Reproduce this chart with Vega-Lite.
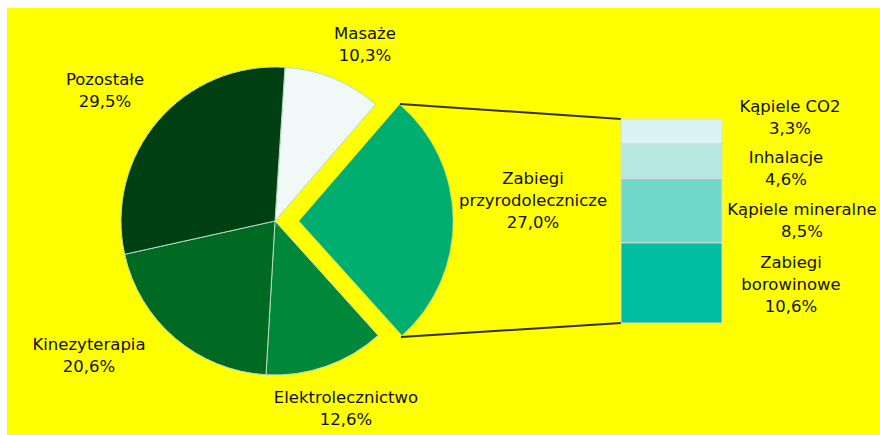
{
  "$schema": "https://vega.github.io/schema/vega-lite/v6.json",
  "width": 873,
  "height": 427,
  "autosize": {"type": "none"},
  "padding": {"left": 7, "top": 8, "right": 0, "bottom": 0},
  "background": "#ffffff",
  "config": {
    "view": {"stroke": null, "fill": "#ffff00"},
    "text": {"font": "DejaVu Sans", "fontSize": 16.5, "fill": "#111111", "align": "center", "baseline": "middle", "lineHeight": 22, "lineBreak": "\n"}
  },
  "datasets": {
    "pie": [
      {"cat": "Masaże", "label": "Masaże", "pct": 10.3, "ord": 1},
      {"cat": "Zabiegi przyrodolecznicze", "label": "Zabiegi\nprzyrodolecznicze", "pct": 27.0, "ord": 2},
      {"cat": "Elektrolecznictwo", "label": "Elektrolecznictwo", "pct": 12.6, "ord": 3},
      {"cat": "Kinezyterapia", "label": "Kinezyterapia", "pct": 20.6, "ord": 4},
      {"cat": "Pozostałe", "label": "Pozostałe", "pct": 29.5, "ord": 5}
    ],
    "bar": [
      {"cat": "Kąpiele CO2", "label": "Kąpiele CO2", "pct": 3.3, "ord": 1},
      {"cat": "Inhalacje", "label": "Inhalacje", "pct": 4.6, "ord": 2},
      {"cat": "Kąpiele mineralne", "label": "Kąpiele mineralne", "pct": 8.5, "ord": 3},
      {"cat": "Zabiegi borowinowe", "label": "Zabiegi\nborowinowe", "pct": 10.6, "ord": 4}
    ]
  },
  "resolve": {"scale": {"y": "independent"}},
  "layer": [
    {
      "layer": [
        {
          "data": {"name": "pie"},
          "transform": [
            {"stack": "pct", "groupby": [], "sort": [{"field": "ord", "order": "ascending"}], "as": ["t0", "t1"]},
            {"filter": "datum.cat !== 'Zabiegi przyrodolecznicze'"}
          ],
          "mark": {"type": "arc", "outerRadius": 154, "stroke": "#b5dcc0", "strokeWidth": 1},
          "encoding": {
            "theta": {"field": "t0", "type": "quantitative", "stack": null, "scale": {"domain": [0, 100], "range": [0.0646, 6.3478]}},
            "theta2": {"field": "t1"},
            "color": {"field": "cat", "type": "nominal", "legend": null, "scale": {
              "domain": ["Masaże", "Zabiegi przyrodolecznicze", "Elektrolecznictwo", "Kinezyterapia", "Pozostałe", "Kąpiele CO2", "Inhalacje", "Kąpiele mineralne", "Zabiegi borowinowe"],
              "range": ["#f0f8f8", "#00ae6f", "#00873a", "#006a22", "#003f12", "#daf3f5", "#b7e9e3", "#70d8c8", "#00bfa0"]}},
            "x": {"datum": 275, "type": "quantitative", "axis": null, "scale": {"domain": [7, 880], "zero": false, "nice": false}},
            "y": {"datum": 221, "type": "quantitative", "axis": null, "scale": {"domain": [8, 435], "reverse": true, "zero": false, "nice": false}}
          }
        },
        {
          "data": {"name": "pie"},
          "transform": [
            {"stack": "pct", "groupby": [], "sort": [{"field": "ord", "order": "ascending"}], "as": ["t0", "t1"]},
            {"filter": "datum.cat === 'Zabiegi przyrodolecznicze'"}
          ],
          "mark": {"type": "arc", "outerRadius": 154, "stroke": "#7fd0b0", "strokeWidth": 0.5},
          "encoding": {
            "theta": {"field": "t0", "type": "quantitative", "stack": null, "scale": {"domain": [0, 100], "range": [0.0646, 6.3478]}},
            "theta2": {"field": "t1"},
            "color": {"field": "cat", "type": "nominal", "legend": null},
            "x": {"datum": 299, "type": "quantitative", "axis": null, "scale": {"domain": [7, 880], "zero": false, "nice": false}},
            "y": {"datum": 221, "type": "quantitative", "axis": null, "scale": {"domain": [8, 435], "reverse": true, "zero": false, "nice": false}}
          }
        },
        {
          "data": {"values": [{}]},
          "mark": {"type": "rule", "stroke": "#333300", "strokeWidth": 2},
          "encoding": {
            "x": {"datum": 400, "type": "quantitative", "axis": null},
            "y": {"datum": 104, "type": "quantitative", "axis": null},
            "x2": {"datum": 621},
            "y2": {"datum": 119}
          }
        },
        {
          "data": {"values": [{}]},
          "mark": {"type": "rule", "stroke": "#333300", "strokeWidth": 2},
          "encoding": {
            "x": {"datum": 401, "type": "quantitative", "axis": null},
            "y": {"datum": 337, "type": "quantitative", "axis": null},
            "x2": {"datum": 621},
            "y2": {"datum": 323}
          }
        },
        {
          "data": {"name": "pie"},
          "transform": [{"filter": "datum.cat === 'Masaże'"}, {"calculate": "datum.label + '\\n' + replace(format(datum.pct, '.1f'), '.', ',') + '%'", "as": "txt"}],
          "mark": {"type": "text"},
          "encoding": {"text": {"field": "txt"}, "x": {"datum": 365, "type": "quantitative", "axis": null}, "y": {"datum": 34, "type": "quantitative", "axis": null}}
        },
        {
          "data": {"name": "pie"},
          "transform": [{"filter": "datum.cat === 'Pozostałe'"}, {"calculate": "datum.label + '\\n' + replace(format(datum.pct, '.1f'), '.', ',') + '%'", "as": "txt"}],
          "mark": {"type": "text"},
          "encoding": {"text": {"field": "txt"}, "x": {"datum": 105, "type": "quantitative", "axis": null}, "y": {"datum": 80, "type": "quantitative", "axis": null}}
        },
        {
          "data": {"name": "pie"},
          "transform": [{"filter": "datum.cat === 'Kinezyterapia'"}, {"calculate": "datum.label + '\\n' + replace(format(datum.pct, '.1f'), '.', ',') + '%'", "as": "txt"}],
          "mark": {"type": "text"},
          "encoding": {"text": {"field": "txt"}, "x": {"datum": 89, "type": "quantitative", "axis": null}, "y": {"datum": 345, "type": "quantitative", "axis": null}}
        },
        {
          "data": {"name": "pie"},
          "transform": [{"filter": "datum.cat === 'Elektrolecznictwo'"}, {"calculate": "datum.label + '\\n' + replace(format(datum.pct, '.1f'), '.', ',') + '%'", "as": "txt"}],
          "mark": {"type": "text"},
          "encoding": {"text": {"field": "txt"}, "x": {"datum": 346, "type": "quantitative", "axis": null}, "y": {"datum": 398, "type": "quantitative", "axis": null}}
        },
        {
          "data": {"name": "pie"},
          "transform": [{"filter": "datum.cat === 'Zabiegi przyrodolecznicze'"}, {"calculate": "datum.label + '\\n' + replace(format(datum.pct, '.1f'), '.', ',') + '%'", "as": "txt"}],
          "mark": {"type": "text"},
          "encoding": {"text": {"field": "txt"}, "x": {"datum": 533, "type": "quantitative", "axis": null}, "y": {"datum": 179, "type": "quantitative", "axis": null}}
        },
        {
          "data": {"name": "bar"},
          "transform": [{"filter": "datum.cat === 'Kąpiele CO2'"}, {"calculate": "datum.label + '\\n' + replace(format(datum.pct, '.1f'), '.', ',') + '%'", "as": "txt"}],
          "mark": {"type": "text"},
          "encoding": {"text": {"field": "txt"}, "x": {"datum": 790, "type": "quantitative", "axis": null}, "y": {"datum": 107, "type": "quantitative", "axis": null}}
        },
        {
          "data": {"name": "bar"},
          "transform": [{"filter": "datum.cat === 'Inhalacje'"}, {"calculate": "datum.label + '\\n' + replace(format(datum.pct, '.1f'), '.', ',') + '%'", "as": "txt"}],
          "mark": {"type": "text"},
          "encoding": {"text": {"field": "txt"}, "x": {"datum": 786, "type": "quantitative", "axis": null}, "y": {"datum": 158, "type": "quantitative", "axis": null}}
        },
        {
          "data": {"name": "bar"},
          "transform": [{"filter": "datum.cat === 'Kąpiele mineralne'"}, {"calculate": "datum.label + '\\n' + replace(format(datum.pct, '.1f'), '.', ',') + '%'", "as": "txt"}],
          "mark": {"type": "text"},
          "encoding": {"text": {"field": "txt"}, "x": {"datum": 802, "type": "quantitative", "axis": null}, "y": {"datum": 210, "type": "quantitative", "axis": null}}
        },
        {
          "data": {"name": "bar"},
          "transform": [{"filter": "datum.cat === 'Zabiegi borowinowe'"}, {"calculate": "datum.label + '\\n' + replace(format(datum.pct, '.1f'), '.', ',') + '%'", "as": "txt"}],
          "mark": {"type": "text"},
          "encoding": {"text": {"field": "txt"}, "x": {"datum": 791, "type": "quantitative", "axis": null}, "y": {"datum": 263, "type": "quantitative", "axis": null}}
        }
      ]
    },
    {
      "data": {"name": "bar"},
      "transform": [
        {"stack": "pct", "groupby": [], "sort": [{"field": "ord", "order": "descending"}], "as": ["b0", "b1"]}
      ],
      "mark": {"type": "rect", "stroke": "#d9d9d9", "strokeWidth": 1},
      "encoding": {
        "x": {"datum": 621, "type": "quantitative", "axis": null},
        "x2": {"datum": 722},
        "y": {"field": "b0", "type": "quantitative", "axis": null, "scale": {"domain": [-14.82, 41.69], "zero": false, "nice": false}},
        "y2": {"field": "b1"},
        "color": {"field": "cat", "type": "nominal", "legend": null}
      }
    }
  ]
}
